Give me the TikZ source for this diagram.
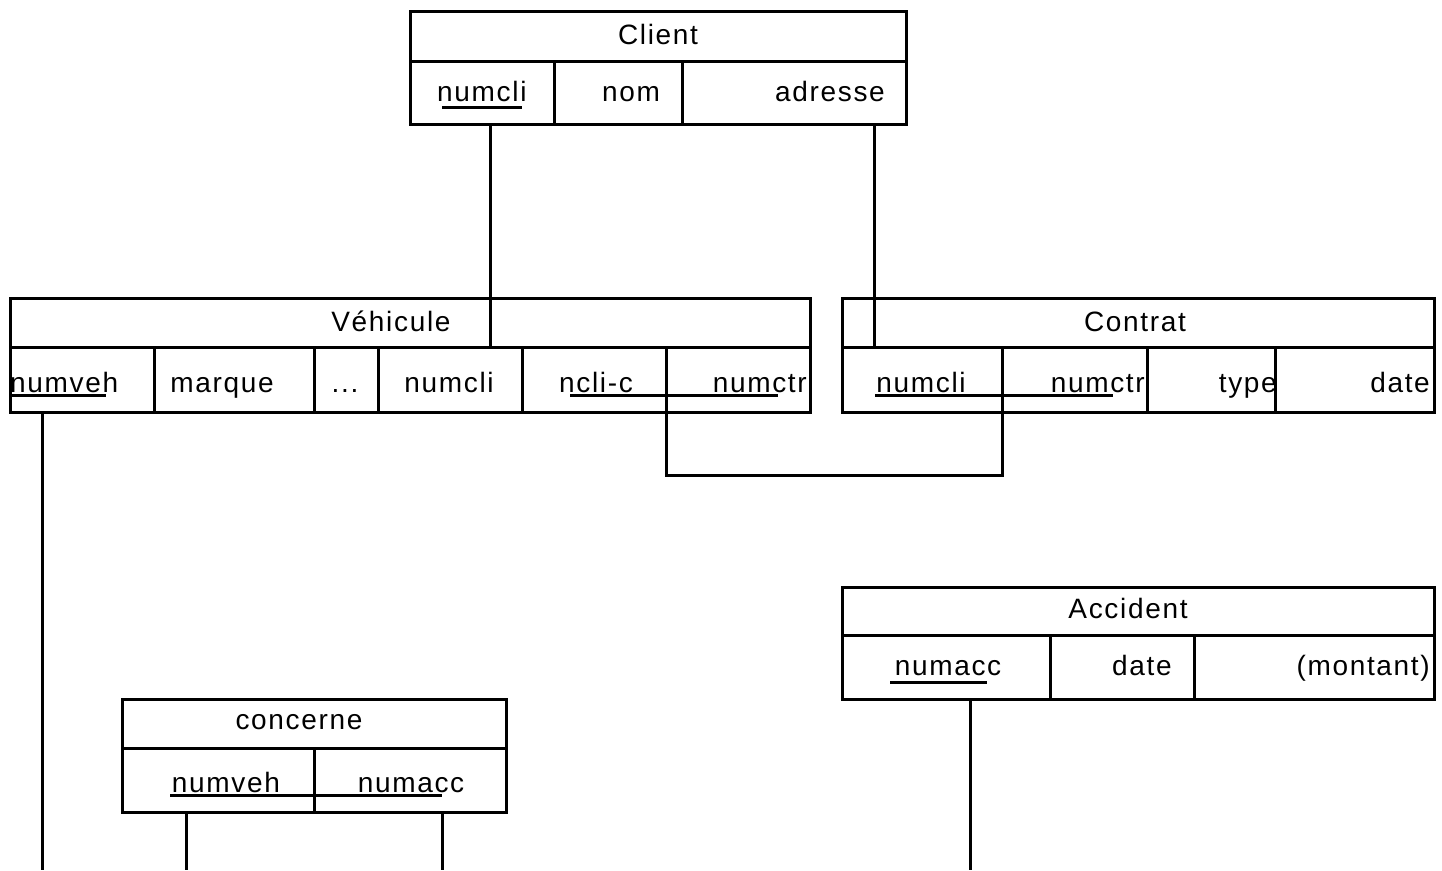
\documentclass[tikz,border=0pt]{standalone}
\usepackage{fontspec}
\setmainfont{Liberation Sans}[LetterSpace=6]
\begin{document}
\begin{tikzpicture}[x=1pt,y=-1pt,
  tbl/.style={draw,line width=3pt,inner sep=0pt,rectangle},
  lbl/.style={inner sep=0pt,font=\fontsize{28}{32}\selectfont},
  rule/.style={line width=3pt},
  ul/.style={line width=3pt},
  conn/.style={line width=3pt}]
\useasboundingbox (0,0) rectangle (1442,870);
\fill[white] (0,0) rectangle (1442,870);

% ---------- Client ----------
\node[tbl,minimum width=496pt,minimum height=113pt] (client) at (658,67.5) {};
\draw[rule] (410,61) -- (906,61);
\draw[rule] (554,61) -- (554,124);
\draw[rule] (682,61) -- (682,124);
\node[lbl,anchor=base] (clientT) at (658,44) {Client};
\node[lbl,anchor=base west] (c1) at (437,101) {numcli};
\node[lbl,anchor=base] (c2) at (631,101) {nom};
\node[lbl,anchor=base east] (c3) at (885,101) {adresse};
\draw[ul] (442,107) -- (522,107);

% ---------- Vehicule ----------
\node[tbl,minimum width=800pt,minimum height=114pt] (veh) at (410,355) {};
\draw[rule] (10,347) -- (810,347);
\foreach \x in {154,314,378,522,666} \draw[rule] (\x,347) -- (\x,412);
\node[lbl,anchor=base] (vehT) at (391,331) {Véhicule};
\node[lbl,anchor=base west] (v1) at (10,392) {numveh};
\node[lbl,anchor=base] (v2) at (222,392) {marque};
\node[lbl,anchor=base] (v3) at (345,392) {...};
\node[lbl,anchor=base] (v4) at (449,392) {numcli};
\node[lbl,anchor=base] (v5) at (596,392) {ncli-c};
\node[lbl,anchor=base east] (v6) at (807,392) {numctr};
\draw[ul] (10,395) -- (106,395);
\draw[ul] (570,395) -- (778,395);

% ---------- Contrat ----------
\node[tbl,minimum width=592pt,minimum height=114pt] (ctr) at (1138,355) {};
\draw[rule] (842,347) -- (1434,347);
\foreach \x in {1002,1147,1275} \draw[rule] (\x,347) -- (\x,412);
\node[lbl,anchor=base] (ctrT) at (1135,331) {Contrat};
\node[lbl,anchor=base] (k1) at (921,392) {numcli};
\node[lbl,anchor=base east] (k2) at (1145,392) {numctr};
\node[lbl,anchor=base east] (k3) at (1277,392) {type};
\node[lbl,anchor=base east] (k4) at (1430,392) {date};
\draw[ul] (875,395) -- (1113,395);

% ---------- Accident ----------
\node[tbl,minimum width=592pt,minimum height=112pt] (acc) at (1138,643) {};
\draw[rule] (842,635) -- (1434,635);
\foreach \x in {1050,1194} \draw[rule] (\x,635) -- (\x,699);
\node[lbl,anchor=base] (accT) at (1128,618) {Accident};
\node[lbl,anchor=base] (a1) at (948,675) {numacc};
\node[lbl,anchor=base] (a2) at (1142,675) {date};
\node[lbl,anchor=base east] (a3) at (1430,675) {(montant)};
\draw[ul] (890,682) -- (987,682);

% ---------- concerne ----------
\node[tbl,minimum width=384pt,minimum height=113pt] (conc) at (314,755.5) {};
\draw[rule] (122,748) -- (506,748);
\draw[rule] (314,748) -- (314,812);
\node[lbl,anchor=base] (concT) at (299,729) {concerne};
\node[lbl,anchor=base] (n1) at (226,792) {numveh};
\node[lbl,anchor=base] (n2) at (411,792) {numacc};
\draw[ul] (170,795) -- (442,795);

% ---------- connectors ----------
\coordinate (vehH) at (490,347);
\coordinate (ctrH) at (874,347);
\coordinate (bend1) at (666,475);
\coordinate (bend2) at (1002,475);
\coordinate (vTop) at (666,412);
\coordinate (kTop) at (1002,412);
\coordinate (e1) at (42,870);
\coordinate (e2) at (186,870);
\coordinate (e3) at (442,870);
\coordinate (e4) at (970,870);

\draw[conn] (490,0 |- client.south) -- (vehH);
\draw[conn] (874,0 |- client.south) -- (ctrH);
\draw[conn] (vTop) -- (bend1) -- (bend2) -- (kTop);
\draw[conn] (42,0 |- veh.south) -- (e1);
\draw[conn] (970,0 |- acc.south) -- (e4);
\draw[conn] (186,0 |- conc.south) -- (e2);
\draw[conn] (442,0 |- conc.south) -- (e3);
\end{tikzpicture}
\end{document}
